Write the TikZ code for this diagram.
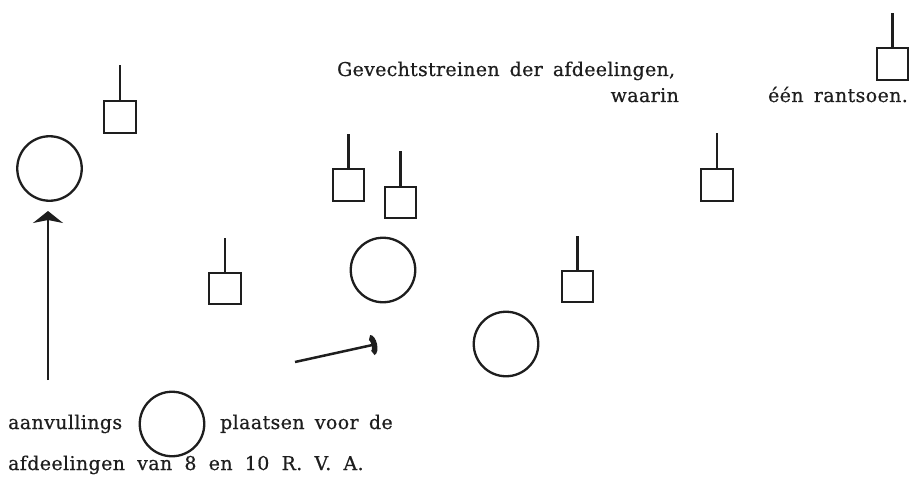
\documentclass[tikz,border=0pt]{standalone}
\usepackage{fontspec}
\setmainfont[LetterSpace=2,WordSpace=1.6,FakeBold=0.6]{DejaVu Serif}
\newfontfamily\widefont[LetterSpace=2,WordSpace=1.9,FakeBold=0.6]{DejaVu Serif}
\usetikzlibrary{arrows.meta}
\definecolor{ink}{HTML}{1E1E1E}
\begin{document}
\begin{tikzpicture}[x=1pt,y=-1pt,
  line width=2.3pt, draw=ink,
  box/.style={draw=ink, line width=2.3pt, minimum size=31.5pt, inner sep=0pt},
  ring/.style={draw=ink, line width=2.3pt, circle, minimum size=64.5pt, inner sep=0pt},
  stem/.style={draw=ink, line width=2.3pt},
  lbl/.style={inner sep=0pt, text=ink, font=\fontsize{19}{21}\selectfont},
  arr/.style={draw=ink, line width=2.5pt}
]
\useasboundingbox (0,0) rectangle (912,489);
% squares with stems
\node[box] (s0) at (120,117) {};
\node[box] (s1) at (348.5,185) {};
\node[box] (s2) at (400.5,202.5) {};
\node[box] (s3) at (717,185) {};
\node[box] (s4) at (892.5,64) {};
\node[box] (s5) at (225,288.5) {};
\node[box] (s6) at (577.5,286.5) {};
\coordinate (t0) at (120,65);
\coordinate (t1) at (348.5,134);
\coordinate (t2) at (400.5,151);
\coordinate (t3) at (717,133);
\coordinate (t4) at (892.5,13);
\coordinate (t5) at (225,238);
\coordinate (t6) at (577.5,236);
\foreach \i in {0,...,6} { \draw[stem] (s\i.north) -- (t\i); }
% circles
\node[ring] (c0) at (49.5,168.5) {};
\node[ring] (c1) at (383,270) {};
\node[ring] (c2) at (506,344) {};
\node[ring] (c3) at (172,424) {};
% arrows
\coordinate (a1s) at (48,380);
\coordinate (a1e) at (48,211);
\draw[arr, -{Stealth[length=12pt,width=30pt,inset=3pt]}] (a1s) -- (a1e);
\coordinate (a2s) at (295,362);
\coordinate (a2e) at (377,344);
\draw[arr, -{Arc Barb[length=6pt,width=21pt,line width=5.5pt]}] (a2s) -- (a2e);
% texts
\node[lbl, anchor=base west] (g) at (336,76) {\addfontfeature{LetterSpace=1.5}Gevechtstreinen der afdeelingen,};
\node[lbl, anchor=base east] (w) at (680,102) {waarin};
\node[lbl, anchor=base east] (r) at (909,102) {één rantsoen.};
\node[lbl, anchor=base west] (av) at (7,429) {aanvullings};
\node[lbl, anchor=base west] (pl) at (219,429) {plaatsen voor de};
\node[lbl, anchor=base west] (af) at (7,470) {\widefont afdeelingen van 8 en 10 R. V. A.};
\end{tikzpicture}
\end{document}
